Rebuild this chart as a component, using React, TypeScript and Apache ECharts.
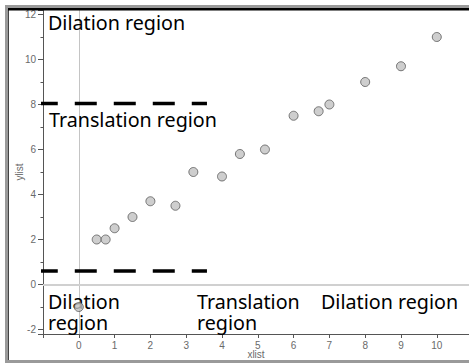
import React, { useEffect, useRef } from "react";
import * as echarts from "echarts";

const xList = [0, 0.5, 0.75, 1, 1.5, 2, 2.7, 3.2, 4, 4.5, 5.2, 6, 6.7, 7, 8, 9, 10];
const yList = [-1, 2, 2, 2.5, 3, 3.7, 3.5, 5, 4.8, 5.8, 6, 7.5, 7.7, 8, 9, 9.7, 11];

const dashLevels = [8.05, 0.6];
const dashXRange = [-2.04, 3.58];

const annotations = [
  { text: "Dilation region", x: 48, y: 22 },
  { text: "Translation region", x: 49, y: 119.5 },
  { text: "Dilation", x: 48, y: 301 },
  { text: "region", x: 48, y: 322 },
  { text: "Translation", x: 197, y: 301 },
  { text: "region", x: 197, y: 322 },
  { text: "Dilation region", x: 321, y: 301 },
];

const tickFont = { color: "#6a6a6a", fontSize: 10, fontFamily: "Liberation Sans" };

export default function App() {
  const ref = useRef<HTMLDivElement>(null);
  useEffect(() => {
    if (!ref.current) return;
    const chart = echarts.init(ref.current, null, { renderer: "svg" });
    const points = xList.map((x, i) => [x, yList[i]]);
    const dashSeries = dashLevels.map((lvl, i) => ({
      type: "line",
      data: [
        [dashXRange[0], lvl],
        [dashXRange[1], lvl],
      ],
      clip: false,
      symbol: "none",
      silent: true,
      z: 4,
      lineStyle: { color: "#000", width: 3.5, type: [22, 17], dashOffset: 9 },
      markLine:
        i === 0
          ? {
              silent: true,
              symbol: ["none", "none"],
              label: { show: false },
              z: 1,
              lineStyle: { color: "#c4c4c4", width: 1, type: "solid" },
              data: [{ xAxis: 0 }, { yAxis: 0, lineStyle: { color: "#d0d0d0", width: 2 } }],
            }
          : undefined,
    }));
    chart.setOption({
      animation: false,
      backgroundColor: "#fff",
      grid: {
        left: 43,
        right: 0,
        top: 10,
        bottom: 29,
        containLabel: false,
        outerBoundsMode: "none",
      },
      xAxis: {
        type: "value",
        min: -1,
        max: 10.9,
        splitNumber: 12,
        splitLine: { show: false },
        axisLine: { show: true, onZero: false, lineStyle: { color: "#555", width: 1 } },
        axisTick: { show: true, length: 4, lineStyle: { color: "#555" } },
        axisLabel: {
          ...tickFont,
          margin: 6,
          formatter: (v: number) => (Number.isInteger(v) && v >= 0 && v <= 10 ? String(v) : ""),
        },
        name: "xlist",
        nameLocation: "middle",
        nameGap: 15,
        nameMoveOverlap: false,
        nameTextStyle: { ...tickFont },
      },
      yAxis: {
        type: "value",
        min: -2.2,
        max: 12.2,
        splitNumber: 7,
        splitLine: { show: false },
        axisLine: { show: true, onZero: false, lineStyle: { color: "#555", width: 1 } },
        axisTick: { show: true, length: 5, lineStyle: { color: "#555" } },
        minorTick: { show: true, splitNumber: 2, length: 2.5, lineStyle: { color: "#555" } },
        axisLabel: {
          ...tickFont,
          margin: 7,
          formatter: (v: number) =>
            Number.isInteger(v) && v % 2 === 0 && v >= -2 && v <= 12 ? String(v) : "",
        },
        name: "ylist",
        nameLocation: "middle",
        nameGap: 19,
        nameMoveOverlap: false,
        nameTextStyle: { ...tickFont },
      },
      series: [
        ...dashSeries,
        {
          type: "scatter",
          data: points,
          symbol: "circle",
          symbolSize: 9,
          z: 30,
          itemStyle: { color: "#c2c2c2", borderColor: "#5a5a5a", borderWidth: 1 },
        },
      ],
      graphic: [
        { type: "rect", z: -1, shape: { x: 5, y: 5, width: 3, height: 358 }, style: { fill: "#9a9a9a" } },
        { type: "rect", z: -1, shape: { x: 8, y: 8, width: 1, height: 352 }, style: { fill: "#444" } },
        { type: "rect", z: -1, shape: { x: 5, y: 5, width: 464, height: 3 }, style: { fill: "#9a9a9a" } },
        { type: "rect", z: 10, shape: { x: 8, y: 8, width: 461, height: 2.5 }, style: { fill: "#000" } },
        { type: "rect", z: -1, shape: { x: 5, y: 360, width: 464, height: 3 }, style: { fill: "#9a9a9a" } },
        ...annotations.map((a) => ({
          type: "text",
          x: a.x,
          y: a.y,
          z: 20,
          style: {
            text: a.text,
            fill: "#000",
            font: '19.7px "Noto Sans"',
            textAlign: "left",
            textVerticalAlign: "middle",
            verticalAlign: "middle",
          },
        })),
      ],
    });
    return () => chart.dispose();
  }, []);
  return (
    <div
      ref={ref}
      style={{ position: "absolute", left: 0, top: 0, width: 469, height: 363 }}
    />
  );
}
